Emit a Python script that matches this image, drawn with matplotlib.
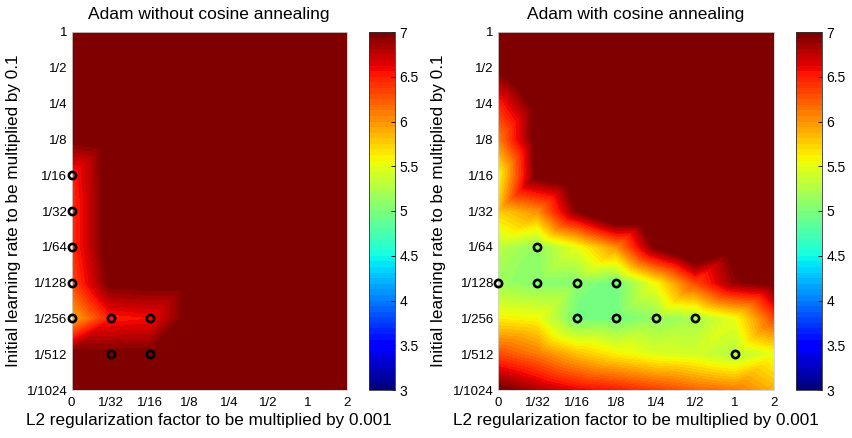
import numpy as np
import matplotlib
matplotlib.use('Agg')
import matplotlib.pyplot as plt
import matplotlib.tri as mtri
from matplotlib import cm, colors

plt.rcParams['font.family'] = ['Liberation Sans', 'DejaVu Sans']

# ---------------- data ----------------
x_labels = ['0', '1/32', '1/16', '1/8', '1/4', '1/2', '1', '2']
y_labels = ['1', '1/2', '1/4', '1/8', '1/16', '1/32', '1/64', '1/128',
            '1/256', '1/512', '1/1024']

# rows follow y_labels (top to bottom), columns follow x_labels
err_without_cos = [
    [7.5, 7.5, 7.5, 7.5, 7.5, 7.5, 7.5, 7.5],
    [7.5, 7.5, 7.5, 7.5, 7.5, 7.5, 7.5, 7.5],
    [7.5, 7.5, 7.5, 7.5, 7.5, 7.5, 7.5, 7.5],
    [7.0, 7.1, 7.5, 7.5, 7.5, 7.5, 7.5, 7.5],
    [6.45, 7.1, 7.5, 7.5, 7.5, 7.5, 7.5, 7.5],
    [6.4, 7.1, 7.5, 7.5, 7.5, 7.5, 7.5, 7.5],
    [6.4, 7.1, 7.5, 7.5, 7.5, 7.5, 7.5, 7.5],
    [6.3, 7.02, 7.05, 7.05, 7.5, 7.5, 7.5, 7.5],
    [5.85, 6.5, 6.55, 7.05, 7.5, 7.5, 7.5, 7.5],
    [7.0, 7.0, 7.0, 7.3, 7.5, 7.5, 7.5, 7.5],
    [7.5, 7.5, 7.5, 7.5, 7.5, 7.5, 7.5, 7.5],
]

err_with_cos = [
    [7.2, 7.5, 7.5, 7.5, 7.5, 7.5, 7.5, 7.5],
    [7.0, 7.5, 7.5, 7.5, 7.5, 7.5, 7.5, 7.5],
    [6.45, 7.1, 7.5, 7.5, 7.5, 7.5, 7.5, 7.5],
    [6.05, 7.1, 7.5, 7.5, 7.5, 7.5, 7.5, 7.5],
    [5.5, 7.05, 7.3, 7.5, 7.5, 7.5, 7.5, 7.5],
    [5.75, 6.0, 6.95, 7.5, 7.5, 7.5, 7.5, 7.5],
    [5.3, 5.1, 5.5, 6.0, 7.0, 7.5, 7.1, 7.3],
    [5.15, 5.05, 5.05, 4.95, 5.55, 6.3, 6.9, 7.05],
    [5.6, 5.55, 4.95, 4.95, 5.1, 5.2, 5.5, 6.3],
    [6.3, 6.1, 5.8, 5.6, 5.45, 5.4, 5.25, 5.5],
    [7.05, 6.8, 6.6, 6.5, 6.35, 6.2, 6.1, 5.85],
]

best_without_cos = [('0', '1/16'), ('0', '1/32'), ('0', '1/64'), ('0', '1/128'),
                    ('0', '1/256'), ('1/32', '1/256'), ('1/16', '1/256'),
                    ('1/32', '1/512'), ('1/16', '1/512')]
best_with_cos = [('1/32', '1/64'), ('0', '1/128'), ('1/32', '1/128'),
                 ('1/16', '1/128'), ('1/8', '1/128'), ('1/16', '1/256'),
                 ('1/8', '1/256'), ('1/4', '1/256'), ('1/2', '1/256'),
                 ('1', '1/512')]

titles = ['Adam without cosine annealing', 'Adam with cosine annealing']
xlabel = 'L2 regularization factor to be multiplied by 0.001'
ylabel = 'Initial learning rate to be multiplied by 0.1'
cbar_ticks = [3, 3.5, 4, 4.5, 5, 5.5, 6, 6.5, 7]
cbar_ticklabels = ['3', '3.5', '4', '4.5', '5', '5.5', '6', '6.5', '7']
vmin, vmax = 3, 7

# ---------------- figure ----------------
W, H = 852, 438
fig = plt.figure(figsize=(W / 100, H / 100), dpi=100)

cmap = plt.get_cmap('jet', 64)
levels = np.linspace(vmin, vmax, 65)

nx, ny = len(x_labels), len(y_labels)
xx, yy = np.meshgrid(np.arange(nx), np.arange(ny))
tris = []
for j in range(ny - 1):
    for i in range(nx - 1):
        k = j * nx + i
        tris.append([k, k + 1, k + nx])
        tris.append([k + 1, k + nx + 1, k + nx])
triang = mtri.Triangulation(xx.ravel(), yy.ravel(), np.array(tris))

def px_ax(l, r, t, b):
    return [l / W, (H - b) / H, (r - l) / W, (b - t) / H]

ax_boxes = [px_ax(71.5, 347, 32, 390), px_ax(498, 774, 32, 390)]
cb_boxes = [px_ax(369, 395, 32, 390), px_ax(796, 822, 32, 390)]
ylab_x = [-0.212, -0.217]

cbars = []
for idx, (data, best) in enumerate([(err_without_cos, best_without_cos),
                                    (err_with_cos, best_with_cos)]):
    ax = fig.add_axes(ax_boxes[idx])
    z = np.array(data, dtype=float).ravel()
    cs = ax.tricontourf(triang, z, levels=levels, cmap=cmap,
                        norm=colors.Normalize(vmin=vmin, vmax=vmax),
                        extend='both')
    cs.set_edgecolor('face')
    cs.set_linewidth(0.4)
    bx = [x_labels.index(a) for a, b in best]
    by = [y_labels.index(b) for a, b in best]
    ax.plot(bx, by, 'o', mfc='none', mec='black', mew=1.9, ms=5.2,
            clip_on=False, zorder=5)
    ax.set_xlim(0, nx - 1)
    ax.set_ylim(ny - 1, 0)
    ax.set_xticks(range(nx))
    ax.set_xticklabels(x_labels)
    ax.set_yticks(range(ny))
    ax.set_yticklabels(y_labels)
    ax.tick_params(length=0, labelsize=9.5, pad=3)
    ax.tick_params(axis='x', pad=5)
    for s in ax.spines.values():
        s.set_color('#d0d0d0')
        s.set_linewidth(0.6)
    ax.set_title(titles[idx], fontsize=12.5, pad=9)
    ax.set_xlabel(xlabel, fontsize=12.3, va='center')
    ax.xaxis.set_label_coords(0.5, -0.084)
    ax.set_ylabel(ylabel, fontsize=12.3, va='center')
    ax.yaxis.set_label_coords(ylab_x[idx], 0.5)

    cax = fig.add_axes(cb_boxes[idx])
    sm = cm.ScalarMappable(norm=colors.Normalize(vmin=vmin, vmax=vmax),
                           cmap=cmap)
    cb = fig.colorbar(sm, cax=cax)
    cbars.append(cb)

for cb in cbars:
    cb.set_ticks(cbar_ticks, labels=cbar_ticklabels)
    cb.ax.tick_params(direction='in', length=3, width=0.6, labelsize=10,
                      pad=3, color='black')
    cb.outline.set_linewidth(0.6)
    cb.outline.set_edgecolor('#333333')

fig.savefig('out.png', dpi=100)
